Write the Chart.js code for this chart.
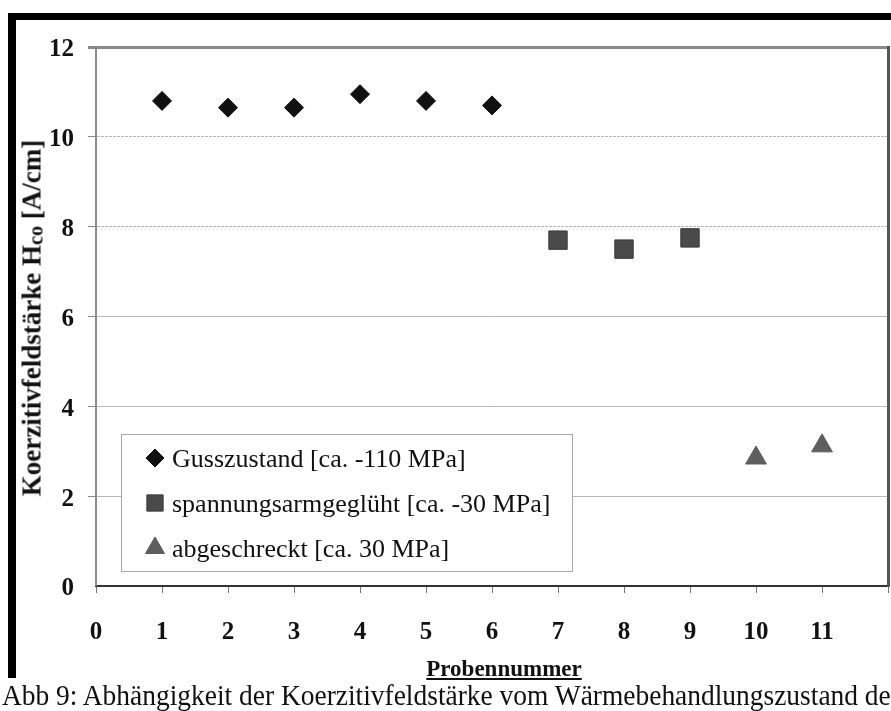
<!DOCTYPE html>
<html>
<head>
<meta charset="utf-8">
<script src="https://cdn.jsdelivr.net/npm/chart.js@4/dist/chart.umd.min.js"></script>
<style>
  html, body { margin: 0; padding: 0; background: #fff; }
  #wrap { position: relative; width: 891px; height: 711px; overflow: hidden; background: #fff; }
  .frame { position: absolute; background: #000; }
  #c { position: absolute; left: 0; top: 0; }
  .txt { position: absolute; font-family: "Liberation Serif", "Times New Roman", serif; color: #111; white-space: nowrap; }
  #ytitle { left: 32px; top: 318px; font-size: 27px; font-weight: bold; transform: translate(-50%, -50%) rotate(-90deg); }
  #ytitle .sub { font-size: 0.75em; position: relative; top: 0.08em; }
  #xtitle { left: 504px; top: 657px; font-size: 23px; font-weight: bold; text-decoration: underline; transform: translateX(-50%); line-height: 1; }
  #caption { left: 2px; top: 680px; font-size: 28px; line-height: 1; transform-origin: 0 0; transform: scale(0.98, 1.08); }
</style>
</head>
<body>
<div id="wrap">
  <div class="frame" style="left:8px; top:13px; width:900px; height:7px;"></div>
  <div class="frame" style="left:8px; top:13px; width:8px; height:665px;"></div>
  <canvas id="c" width="891" height="711"></canvas>
  <div class="txt" id="ytitle">Koerzitivfeldstärke H<span class="sub">co</span> [A/cm]</div>
  <div class="txt" id="xtitle">Probennummer</div>
  <div class="txt" id="caption">Abb 9: Abhängigkeit der Koerzitivfeldstärke vom Wärmebehandlungszustand der</div>
</div>
<script>
// ---- data ----
const seriesLabels = [
  "Gusszustand [ca. -110 MPa]",
  "spannungsarmgeglüht [ca. -30 MPa]",
  "abgeschreckt [ca. 30 MPa]"
];
const probenGuss = [1, 2, 3, 4, 5, 6];
const hcGuss = [10.8, 10.65, 10.65, 10.95, 10.8, 10.7];
const probenSpannung = [7, 8, 9];
const hcSpannung = [7.7, 7.5, 7.75];
const probenAbgeschreckt = [10, 11];
const hcAbgeschreckt = [2.85, 3.12];
const xTickLabels = ["0", "1", "2", "3", "4", "5", "6", "7", "8", "9", "10", "11"];
const yTickLabels = ["0", "2", "4", "6", "8", "10", "12"];

function pts(xs, ys) { return xs.map((x, i) => ({ x: x, y: ys[i] })); }

const SERIF = "'Liberation Serif', 'Times New Roman', serif";

const legendInside = {
  id: 'legendInside',
  afterDatasetsDraw(chart) {
    const ctx = chart.ctx;
    const ca = chart.chartArea;
    const left = ca.left + 25, top = ca.bottom - 152, w = 451, h = 137;
    ctx.save();
    ctx.fillStyle = '#fff';
    ctx.fillRect(left, top, w, h);
    ctx.strokeStyle = '#a8a8a8';
    ctx.lineWidth = 1;
    ctx.strokeRect(left + 0.5, top + 0.5, w, h);
    const radii = [9, 11.5, 11];
    chart.data.datasets.forEach((ds, i) => {
      const cy = top + 24 + i * 45;
      ctx.fillStyle = ds.backgroundColor;
      ctx.strokeStyle = ds.borderColor;
      Chart.helpers.drawPoint(ctx, { pointStyle: ds.pointStyle, rotation: 0, radius: radii[i], borderWidth: 1 }, left + 34, cy);
      ctx.fillStyle = '#111';
      ctx.font = '26px ' + SERIF;
      ctx.textBaseline = 'alphabetic';
      ctx.textAlign = 'left';
      ctx.fillText(ds.label, left + 51, cy + 8.5);
    });
    ctx.restore();
  }
};

new Chart(document.getElementById('c'), {
  type: 'scatter',
  data: {
    datasets: [
      { label: seriesLabels[0], data: pts(probenGuss, hcGuss), pointStyle: 'rectRot', pointRadius: 9.5,
        backgroundColor: '#111111', borderColor: '#111111', borderWidth: 1 },
      { label: seriesLabels[1], data: pts(probenSpannung, hcSpannung), pointStyle: 'rect', pointRadius: 13,
        backgroundColor: '#4a4a4a', borderColor: '#3a3a3a', borderWidth: 1 },
      { label: seriesLabels[2], data: pts(probenAbgeschreckt, hcAbgeschreckt), pointStyle: 'triangle', pointRadius: 12,
        backgroundColor: '#5e5e5e', borderColor: '#5e5e5e', borderWidth: 1 }
    ]
  },
  options: {
    responsive: false,
    animation: false,
    devicePixelRatio: 1,
    layout: { autoPadding: false, padding: { top: 47, left: 0, right: 0, bottom: 0 } },
    plugins: { legend: { display: false }, tooltip: { enabled: false }, title: { display: false } },
    scales: {
      x: {
        type: 'linear', position: 'bottom', min: 0, max: 12,
        afterFit: s => { s.height = 125; s.paddingRight = 0; s.paddingLeft = 0; },
        afterBuildTicks: s => { s.ticks = xTickLabels.map(v => ({ value: Number(v) })).concat([{ value: 12 }]); },
        ticks: {
          stepSize: 1, autoSkip: false, maxRotation: 0, padding: 25,
          color: '#111', font: { family: SERIF, size: 25, weight: 'bold' },
          callback: (v) => xTickLabels.includes(String(v)) ? String(v) : ''
        },
        grid: { drawOnChartArea: false, drawTicks: true, tickLength: 7, tickColor: '#777', tickWidth: 1 },
        border: { display: true, color: '#333', width: 2 }
      },
      y: {
        type: 'linear', position: 'left', min: 0, max: 12,
        afterFit: s => { s.width = 96; },
        afterBuildTicks: s => { s.ticks = yTickLabels.map(v => ({ value: Number(v) })); },
        ticks: {
          stepSize: 2, padding: 14, labelOffset: 3,
          color: '#111', font: { family: SERIF, size: 25, weight: 'bold' },
          callback: (v) => String(v)
        },
        grid: {
          drawOnChartArea: true, drawTicks: true, tickLength: 8, tickColor: '#888',
          color: ctx => (ctx.tick && ctx.tick.value === 12) ? '#8a8a8a' : '#b8b8b8',
          lineWidth: ctx => (ctx.tick && ctx.tick.value === 12) ? 3 : (ctx.tick && ctx.tick.value === 0 ? 0 : 1)
        },
        border: {
          display: true, color: '#8c8c8c', width: 2,
          dash: ctx => (ctx.tick && (ctx.tick.value === 10 || ctx.tick.value === 8)) ? [3, 1] : []
        }
      },
      yRight: {
        type: 'linear', position: 'right', min: 0, max: 12,
        afterFit: s => { s.width = 3; s.paddingTop = 0; s.paddingBottom = 0; },
        ticks: { display: false },
        grid: { drawOnChartArea: false, drawTicks: false },
        border: { display: true, color: '#555', width: 3 }
      }
    }
  },
  plugins: [legendInside]
});
</script>
</body>
</html>
